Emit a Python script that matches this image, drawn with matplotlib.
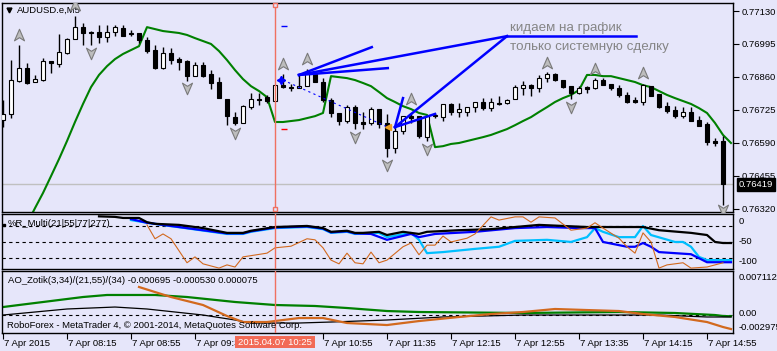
import numpy as np
import matplotlib
matplotlib.use('Agg')
import matplotlib.pyplot as plt
from matplotlib.path import Path
from matplotlib.patches import Rectangle
import matplotlib.transforms as mtransforms

plt.rcParams['font.family'] = ['Liberation Sans', 'DejaVu Sans']

# ---------------- data ----------------
symbol_title = 'AUDUSD.e,M5'
open_ = [0.76683, 0.76708, 0.76843, 0.76896, 0.76839, 0.76847, 0.76925, 0.76913, 0.76958, 0.77015,
         0.77064, 0.77044, 0.77044, 0.77023, 0.77044, 0.77060, 0.77040, 0.77040, 0.77011, 0.76970,
         0.76896, 0.76958, 0.76933, 0.76925, 0.76863, 0.76909, 0.76872, 0.76839, 0.76769, 0.76695,
         0.76671, 0.76736, 0.76769, 0.76777, 0.76761, 0.76826, 0.76818, 0.76814, 0.76822, 0.76872,
         0.76839, 0.76765, 0.76712, 0.76679, 0.76736, 0.76675, 0.76671, 0.76728, 0.76671, 0.76568,
         0.76638, 0.76699, 0.76699, 0.76613, 0.76704, 0.76695, 0.76749, 0.76716, 0.76716, 0.76736,
         0.76757, 0.76732, 0.76753, 0.76753, 0.76769, 0.76814, 0.76827, 0.76814, 0.76855, 0.76872,
         0.76847, 0.76822, 0.76794, 0.76818, 0.76814, 0.76847, 0.76831, 0.76814, 0.76786, 0.76765,
         0.76757, 0.76822, 0.76790, 0.76740, 0.76724, 0.76699, 0.76716, 0.76683, 0.76667, 0.76597,
         0.76597]
high = [0.76765, 0.76929, 0.76991, 0.76917, 0.76868, 0.76937, 0.76925, 0.77036, 0.77019, 0.77109,
        0.77081, 0.77048, 0.77073, 0.77073, 0.77073, 0.77073, 0.77052, 0.77040, 0.77023, 0.76991,
        0.76982, 0.76978, 0.76941, 0.76929, 0.76921, 0.76921, 0.76888, 0.76859, 0.76769, 0.76716,
        0.76745, 0.76794, 0.76794, 0.76786, 0.76827, 0.76872, 0.76831, 0.76872, 0.76892, 0.76872,
        0.76855, 0.76773, 0.76712, 0.76745, 0.76745, 0.76716, 0.76736, 0.76728, 0.76708, 0.76654,
        0.76699, 0.76712, 0.76699, 0.76704, 0.76712, 0.76749, 0.76753, 0.76753, 0.76736, 0.76757,
        0.76773, 0.76773, 0.76781, 0.76769, 0.76827, 0.76843, 0.76831, 0.76868, 0.76880, 0.76876,
        0.76847, 0.76822, 0.76822, 0.76822, 0.76855, 0.76855, 0.76831, 0.76827, 0.76798, 0.76777,
        0.76831, 0.76822, 0.76790, 0.76757, 0.76740, 0.76736, 0.76736, 0.76699, 0.76675, 0.76609,
        0.76617]
low = [0.76654, 0.76691, 0.76839, 0.76831, 0.76839, 0.76843, 0.76876, 0.76900, 0.76954, 0.77015,
       0.76991, 0.76991, 0.76999, 0.77003, 0.77027, 0.77027, 0.77027, 0.76999, 0.76958, 0.76892,
       0.76892, 0.76913, 0.76888, 0.76843, 0.76863, 0.76859, 0.76810, 0.76773, 0.76663, 0.76663,
       0.76671, 0.76728, 0.76745, 0.76753, 0.76761, 0.76814, 0.76802, 0.76814, 0.76822, 0.76839,
       0.76757, 0.76695, 0.76662, 0.76671, 0.76646, 0.76646, 0.76663, 0.76650, 0.76531, 0.76548,
       0.76626, 0.76671, 0.76609, 0.76597, 0.76691, 0.76679, 0.76704, 0.76695, 0.76699, 0.76716,
       0.76724, 0.76720, 0.76745, 0.76749, 0.76769, 0.76786, 0.76781, 0.76798, 0.76839, 0.76843,
       0.76814, 0.76769, 0.76790, 0.76794, 0.76810, 0.76827, 0.76806, 0.76777, 0.76753, 0.76753,
       0.76745, 0.76781, 0.76732, 0.76712, 0.76691, 0.76691, 0.76679, 0.76658, 0.76581, 0.76576,
       0.76335]
close = [0.76708, 0.76847, 0.76896, 0.76835, 0.76851, 0.76925, 0.76917, 0.76962, 0.77015, 0.77064,
         0.77040, 0.77040, 0.77023, 0.77044, 0.77064, 0.77027, 0.77036, 0.77011, 0.76966, 0.76896,
         0.76958, 0.76929, 0.76921, 0.76863, 0.76909, 0.76863, 0.76835, 0.76773, 0.76699, 0.76671,
         0.76740, 0.76769, 0.76765, 0.76761, 0.76827, 0.76818, 0.76814, 0.76822, 0.76876, 0.76839,
         0.76765, 0.76712, 0.76679, 0.76736, 0.76671, 0.76667, 0.76728, 0.76667, 0.76568, 0.76638,
         0.76699, 0.76691, 0.76617, 0.76699, 0.76699, 0.76749, 0.76716, 0.76728, 0.76736, 0.76757,
         0.76732, 0.76757, 0.76749, 0.76765, 0.76818, 0.76827, 0.76814, 0.76855, 0.76872, 0.76847,
         0.76818, 0.76794, 0.76814, 0.76810, 0.76847, 0.76827, 0.76814, 0.76786, 0.76757, 0.76757,
         0.76827, 0.76781, 0.76736, 0.76720, 0.76699, 0.76716, 0.76679, 0.76658, 0.76593, 0.76589,
         0.76419]

trail_idx = list(range(3, 92))
trail = [0.76257, 0.76322, 0.76384, 0.76453, 0.76523, 0.76597, 0.76675, 0.76749, 0.76818, 0.76868,
         0.76904, 0.76933, 0.76954, 0.76970, 0.76986, 0.77064, 0.77056, 0.77048, 0.77044, 0.77040,
         0.77032, 0.77019, 0.77007, 0.76995, 0.76966, 0.76929, 0.76888, 0.76851, 0.76822, 0.76802,
         0.76777, 0.76675, 0.76675, 0.76679, 0.76683, 0.76691, 0.76699, 0.76712, 0.76863, 0.76859,
         0.76855, 0.76847, 0.76835, 0.76822, 0.76798, 0.76773, 0.76757, 0.76740, 0.76728, 0.76712,
         0.76704, 0.76572, 0.76576, 0.76585, 0.76589, 0.76597, 0.76605, 0.76613, 0.76622, 0.76634,
         0.76646, 0.76662, 0.76679, 0.76695, 0.76716, 0.76736, 0.76757, 0.76773, 0.76786, 0.76806,
         0.76868, 0.76868, 0.76863, 0.76863, 0.76855, 0.76847, 0.76839, 0.76826, 0.76818, 0.76802,
         0.76786, 0.76773, 0.76761, 0.76749, 0.76732, 0.76712, 0.76671, 0.76622, 0.76589]

up_sig_idx = [2, 9, 35, 38, 51, 68, 74, 80]
up_sig = [0.77031, 0.77154, 0.76913, 0.76933, 0.76769, 0.76917, 0.76892, 0.76876]
dn_sig_idx = [11, 23, 29, 44, 48, 53, 71, 90]
dn_sig = [0.76958, 0.76814, 0.76630, 0.76613, 0.76498, 0.76564, 0.76736, 0.76314]

price_ticks = [0.77130, 0.76995, 0.76860, 0.76725, 0.76590, 0.76455, 0.76320]

# %R multi
wr_black_idx = [12, 14, 15, 17, 18, 19, 22, 25, 28, 30, 31, 34, 38, 40, 41, 43, 44, 45, 47, 48,
                50, 52, 53, 57, 61, 64, 67, 73, 80, 82, 86, 88, 89, 90, 91]
wr_black = [-2, -3, -5, -5, -13, -16, -18, -24, -33, -33, -29, -22, -20, -24, -31, -29, -33, -33, -31, -37,
            -31, -35, -31, -28, -26, -22, -18, -22, -22, -28, -33, -37, -50, -52, -52]
wr_cyan_idx = [16, 18, 28, 30, 31, 34, 38, 40, 41, 43, 44, 47, 48, 51, 52, 53, 55, 59, 62, 64,
               68, 71, 73, 74, 75, 77, 79, 80, 81, 84, 85, 86, 87, 88, 91]
wr_cyan = [-9, -14, -35, -35, -31, -24, -22, -26, -33, -31, -35, -33, -41, -33, -46, -71, -69, -63, -59, -48,
           -46, -50, -41, -24, -31, -41, -41, -20, -37, -50, -50, -59, -78, -84, -84]
wr_blue_idx = [16, 18, 28, 30, 31, 34, 38, 40, 41, 43, 44, 46, 48, 51, 52, 54, 59, 64, 68, 72,
               74, 75, 78, 79, 80, 81, 82, 86, 88, 91]
wr_blue = [-7, -14, -34, -34, -30, -23, -21, -25, -32, -30, -34, -35, -46, -35, -41, -35, -31, -24, -22, -24,
           -24, -50, -59, -59, -52, -59, -69, -73, -88, -88]
wr_orange_idx = [18, 19, 20, 21, 23, 24, 25, 27, 28, 29, 30, 33, 34, 36, 38, 39, 40, 41, 42, 43,
                 44, 45, 46, 47, 48, 50, 51, 52, 53, 54, 55, 56, 58, 59, 61, 62, 64, 65, 66, 67,
                 69, 71, 73, 74, 75, 77, 78, 79, 80, 81, 82, 83, 85, 86, 88, 90]
wr_orange = [-18, -44, -35, -44, -89, -78, -91, -99, -93, -97, -78, -71, -61, -58, -44, -46, -61, -84, -91, -71,
             -89, -91, -69, -89, -84, -59, -52, -74, -56, -56, -39, -50, -43, -35, -3, -9, -3, -3, -13, -3,
             -5, -28, -24, -14, -24, -43, -59, -71, -33, -50, -99, -93, -89, -99, -97, -89]
wr_levels = [-20, -50, -80]

# AO
ao_green_idx = [0, 2, 6, 10, 13, 19, 23, 29, 34, 39, 43, 48, 52, 65, 77, 84, 89, 90, 91]
ao_green = [0.00125, 0.00158, 0.00223, 0.00288, 0.00321, 0.00321, 0.00288, 0.00207, 0.00158, 0.00142,
            0.00109, 0.00060, 0.00044, 0.00028, 0.00044, 0.00028, -0.00005, -0.00021, -0.00025]
ao_black_idx = [0, 4, 8, 14, 18, 25, 29, 31, 37, 41, 48, 55, 65, 82, 88, 91]
ao_black = [-0.00005, 0.00044, 0.00093, 0.00125, 0.00093, -0.00005, -0.00086, -0.00135, -0.00135, -0.00119,
            -0.00086, -0.00037, -0.00005, -0.00005, -0.00037, -0.00037]
ao_orange_idx = [17, 19, 21, 25, 28, 30, 33, 37, 40, 43, 48, 52, 57, 61, 65, 69, 73, 77, 80, 84, 88, 90, 91]
ao_orange = [0.00451, 0.00369, 0.00288, 0.00158, -0.00021, -0.00119, -0.00119, -0.00054, -0.00054, -0.00135,
             -0.00168, -0.00103, -0.00037, 0.00011, 0.00044, 0.00093, 0.00076, 0.00060, 0.00011, -0.00037,
             -0.00119, -0.00200, -0.00233]
ao_max, ao_min = 0.007112, -0.002975

time_idx = [0, 8, 16, 24, 40, 48, 56, 64, 72, 80, 88]
time_labels = ['7 Apr 2015', '7 Apr 08:15', '7 Apr 08:55', '7 Apr 09:35', '7 Apr 10:55',
               '7 Apr 11:35', '7 Apr 12:15', '7 Apr 12:55', '7 Apr 13:35', '7 Apr 14:15', '7 Apr 14:55']
cursor_idx = 34
cursor_label = '2015.04.07 10:25'

# user drawn trend lines (bar index, price)
fan_start = (37, 0.76868)
fan_ends = [(46.1, 0.76982), (48.1, 0.76896), (63, 0.77027)]
arrow_tail = (63, 0.77027)
arrow_tip = (49, 0.76654)
tip_ends = [(50, 0.76773), (54, 0.76708)]
underline = [(63, 0.77027), (79.1, 0.77027)]
trade_line = [(35, 0.76847), (48.1, 0.76654)]
tp_level, sl_level = 0.77068, 0.76646
note1 = 'кидаем на график'
note2 = 'только системную сделку'

# ---------------- drawing ----------------
W, H = 777, 351
BG = '#e6e6fa'
FS = 6.8
CUR = '#f07060'

fig = plt.figure(figsize=(W / 100, H / 100), dpi=100, facecolor=BG)
XL = (-0.125, 91.25)


def add_ax(x0, y0, x1, y1):
    ax = fig.add_axes([x0 / W, 1 - y1 / H, (x1 - x0) / W, (y1 - y0) / H])
    ax.set_facecolor(BG)
    for s in ax.spines.values():
        s.set_color('black')
        s.set_linewidth(1)
    ax.set_xlim(*XL)
    ax.set_xticks([])
    ax.set_yticks([])
    return ax


ax = add_ax(2, 3, 733, 212)
ax.set_ylim(0.76306, 0.77163)
idx = np.arange(len(close))
o = np.array(open_); c = np.array(close); h = np.array(high); l = np.array(low)

ax.axhline(close[-1], color='#c0c0c0', lw=1, zorder=1)
ax.plot(trail_idx, trail, color='#008000', lw=1.5, zorder=2)
ax.vlines(idx, l, h, color='black', lw=1, zorder=3)
up = c >= o
bottoms = np.minimum(o, c)
heights = np.abs(c - o)
ax.bar(idx[up], heights[up], bottom=bottoms[up], width=0.62, color='white', edgecolor='black', lw=0.8, zorder=4)
ax.bar(idx[~up], heights[~up], bottom=bottoms[~up], width=0.62, color='black', edgecolor='black', lw=0.8, zorder=4)

up_path = Path([(0, 1), (0.8, -0.85), (0, -0.35), (-0.8, -0.85), (0, 1)],
               [Path.MOVETO, Path.LINETO, Path.LINETO, Path.LINETO, Path.CLOSEPOLY])
dn_path = Path([(0, -1), (0.8, 0.85), (0, 0.35), (-0.8, 0.85), (0, -1)],
               [Path.MOVETO, Path.LINETO, Path.LINETO, Path.LINETO, Path.CLOSEPOLY])
ax.plot(up_sig_idx, up_sig, ls='none', marker=up_path, ms=9, mfc='#bdbdbd', mec='#7a7a7a', mew=0.8, zorder=5)
ax.plot(dn_sig_idx, dn_sig, ls='none', marker=dn_path, ms=9, mfc='#bdbdbd', mec='#7a7a7a', mew=0.8, zorder=5)

blue = '#0000ff'
for e in fan_ends:
    ax.plot([fan_start[0], e[0]], [fan_start[1], e[1]], color=blue, lw=1.8, zorder=6)
ax.plot([arrow_tail[0], arrow_tip[0]], [arrow_tail[1], arrow_tip[1]], color=blue, lw=1.8, zorder=6)
for e in tip_ends:
    ax.plot([arrow_tip[0], e[0]], [arrow_tip[1], e[1]], color=blue, lw=1.8, zorder=6)
ax.plot([p[0] for p in underline], [p[1] for p in underline], color=blue, lw=1.8, zorder=6)
ax.plot([p[0] for p in trade_line], [p[1] for p in trade_line], color=blue, lw=0.8, ls=(0, (2, 3)), zorder=6)
ax.plot([trade_line[0][0] - 0.2], [trade_line[0][1]], marker=(4, 1, 0), color=blue, ms=6, zorder=7)
ax.plot([trade_line[1][0]], [trade_line[1][1]], marker='<', color='#f0a020', ms=4, zorder=7)
ax.hlines(tp_level, 34.8, 35.5, color=blue, lw=1, zorder=6)
ax.hlines(sl_level, 34.8, 35.5, color='red', lw=1, zorder=6)

ax.text(63.4, 0.77060, note1, fontsize=9.6, color='#858585', va='center', ha='left', zorder=7)
ax.text(63.4, 0.76982, note2, fontsize=9.6, color='#858585', va='center', ha='left', zorder=7)

ax.axvline(cursor_idx, color=CUR, lw=1, zorder=8)
ax.plot([cursor_idx, cursor_idx], [0.99, 0.012], ls='none', marker='s', ms=3.2, mfc=BG, mec=CUR,
        transform=mtransforms.blended_transform_factory(ax.transData, ax.transAxes), zorder=9, clip_on=False)

ax.plot([0.0096], [0.965], marker='v', color='black', ms=3.5, transform=ax.transAxes)
ax.text(0.021, 0.965, symbol_title, fontsize=FS, transform=ax.transAxes, va='center', ha='left')

ax.yaxis.tick_right()
ax.set_yticks(price_ticks)
ax.set_yticklabels([f'{v:.5f}' for v in price_ticks])
ax.tick_params(axis='y', length=4, width=0.8, pad=2, labelsize=FS, colors='black')
ax.annotate(f'{close[-1]:.5f}', xy=(1, close[-1]),
            xycoords=mtransforms.blended_transform_factory(ax.transAxes, ax.transData),
            xytext=(4, 0), textcoords='offset points', va='center', ha='left', fontsize=FS, color='white',
            bbox=dict(boxstyle='square,pad=0.2', fc='black', ec='black'), annotation_clip=False)

# %R panel
axr = add_ax(2, 214, 733, 269)
axr.set_ylim(-100.7, 2.4)
for lv in wr_levels:
    axr.axhline(lv, color='black', lw=0.8, ls=(0, (3, 3)), zorder=1)
axr.plot(wr_cyan_idx, wr_cyan, color='#00bfff', lw=1.6, zorder=2)
axr.plot(wr_blue_idx, wr_blue, color='#0000ff', lw=1.6, zorder=3)
axr.plot(wr_black_idx, wr_black, color='black', lw=1.6, zorder=4)
axr.plot(wr_orange_idx, wr_orange, color='#d2691e', lw=0.8, zorder=5)
axr.axvline(cursor_idx, color=CUR, lw=1, zorder=8)
axr.text(0.0082, 0.83, '%R_Multi(21|55|77|277)', fontsize=FS, transform=axr.transAxes, va='center', ha='left', zorder=9)
axr.plot([0.003], [0.8], marker='s', color='black', ms=1.5, transform=axr.transAxes, clip_on=False)
for lab, yp in [('0', 221), ('-50', 242), ('-100', 262)]:
    fig.text(739 / W, 1 - yp / H, lab, fontsize=FS, va='center', ha='left')

# AO panel
axa = add_ax(2, 271, 733, 333)
axa.set_ylim(ao_min, ao_max)
axa.axhline(0, color='black', lw=0.8, ls=(0, (3, 3)), zorder=1)
axa.plot(ao_green_idx, ao_green, color='#008000', lw=1.6, zorder=2)
axa.plot(ao_black_idx, ao_black, color='black', lw=0.9, zorder=3)
axa.plot(ao_orange_idx, ao_orange, color='#d2691e', lw=1.6, zorder=4)
axa.axvline(cursor_idx, color=CUR, lw=1, zorder=8)
axa.text(0.0082, 0.84, 'AO_Zotik(3,34)/(21,55)/(34) -0.000695 -0.000530 0.000075', fontsize=FS,
         transform=axa.transAxes, va='center', ha='left', zorder=9)
axa.text(0.0068, 0.115, 'RoboForex - MetaTrader 4, © 2001-2014, MetaQuotes Software Corp.', fontsize=FS,
         transform=axa.transAxes, va='center', ha='left', zorder=9)
for lab, yp in [('0.007112', 278), ('0.00', 314), ('-0.002975', 327)]:
    fig.text(739 / W, 1 - yp / H, lab, fontsize=FS, va='center', ha='left')

axa.set_xticks(time_idx)
axa.set_xticklabels([])
axa.tick_params(axis='x', length=4, width=0.8, direction='out', colors='black')
tb = mtransforms.blended_transform_factory(axa.transData, axa.transAxes)
for i, lab in zip(time_idx, time_labels):
    axa.text(i + 0.12, -0.165, lab, fontsize=FS, transform=tb, va='center', ha='left', clip_on=False)

fig.patches.append(Rectangle((235 / W, 1 - 348 / H), 80 / W, 12 / H, transform=fig.transFigure,
                             fc='#f26a56', ec='none', zorder=5))
fig.text(275 / W, 1 - 342.5 / H, cursor_label, fontsize=FS, color='white', ha='center', va='center', zorder=6)

fig.savefig('out.png', dpi=100, facecolor=BG)
